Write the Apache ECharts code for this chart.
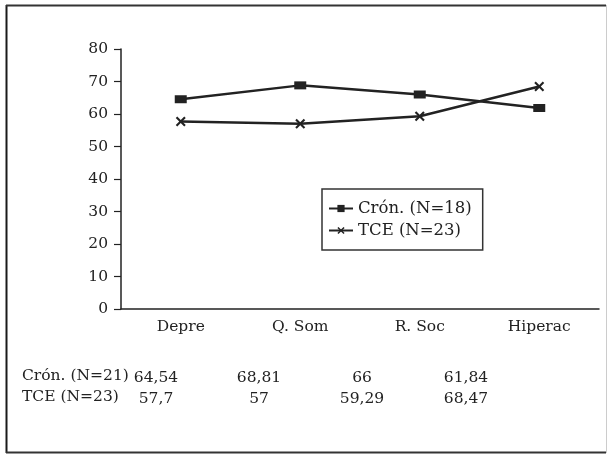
<!DOCTYPE html>
<html>
<head>
<meta charset="utf-8">
<script src="https://cdn.jsdelivr.net/npm/echarts@6/dist/echarts.min.js"></script>
<style>
  html, body { margin: 0; padding: 0; background: #fff; }
  #chart { width: 608px; height: 458px; }
</style>
</head>
<body>
<div id="chart"></div>
<script>
// Scale means per subscale for the two clinical groups
const categories = ['Depre', 'Q. Som', 'R. Soc', 'Hiperac'];
const cronValues = [64.54, 68.81, 66, 61.84];
const tceValues = [57.7, 57, 59.29, 68.47];
const legendNames = ['Crón. (N=18)', 'TCE (N=23)'];
const tableRowNames = ['Crón. (N=21)', 'TCE (N=23)'];
const yTicks = { min: 0, max: 80, step: 10 };

const FONT = 'DejaVu Serif';
const INK = '#222';

// X marker drawn as a filled cross
const crossSymbol = 'path://M0,1.5L1.5,0L5,3.5L8.5,0L10,1.5L6.5,5L10,8.5L8.5,10L5,6.5L1.5,10L0,8.5L3.5,5Z';

const fmt = v => String(v).replace('.', ',');

// Value table under the plot
const colX = [156, 259, 362, 466];
const rowY = [378, 399];
const tableText = [];
[cronValues, tceValues].forEach((vals, r) => {
  tableText.push({
    type: 'text', left: 22, top: rowY[r] - 10,
    style: { text: tableRowNames[r], font: '15.5px "' + FONT + '"', fill: INK }
  });
  vals.forEach((v, c) => {
    tableText.push({
      type: 'text', x: colX[c], y: rowY[r],
      style: { text: fmt(v), font: '15.5px "' + FONT + '"', fill: INK,
               textAlign: 'center', textVerticalAlign: 'middle' }
    });
  });
});

const chart = echarts.init(document.getElementById('chart'), null, { renderer: 'canvas' });
chart.setOption({
  animation: false,
  backgroundColor: '#fff',
  textStyle: { fontFamily: FONT, color: INK },
  grid: { left: 121, right: 9, top: 49, bottom: 149 },
  xAxis: {
    type: 'category',
    data: categories,
    boundaryGap: true,
    axisLine: { lineStyle: { color: INK, width: 1.5 } },
    axisTick: { alignWithLabel: true, length: 5, lineStyle: { color: INK, width: 1.2 } },
    axisLabel: { margin: 10, fontSize: 15.5, color: INK, fontFamily: FONT }
  },
  yAxis: {
    type: 'value',
    min: yTicks.min, max: yTicks.max, interval: yTicks.step,
    axisLine: { show: true, lineStyle: { color: INK, width: 1.5 } },
    axisTick: { show: true, length: 7, lineStyle: { color: INK, width: 1.2 } },
    axisLabel: { margin: 13, fontSize: 15.5, color: INK, fontFamily: FONT },
    splitLine: { show: false }
  },
  legend: {
    orient: 'vertical',
    left: 322, top: 189,
    padding: [11, 11, 11, 6],
    itemGap: 5,
    itemWidth: 24, itemHeight: 9,
    borderColor: '#333', borderWidth: 1.5,
    textStyle: { fontSize: 16.5, color: INK, fontFamily: FONT },
    data: legendNames
  },
  series: [
    {
      name: legendNames[0], type: 'line', data: cronValues,
      symbol: 'rect', symbolSize: [12, 8],
      lineStyle: { color: INK, width: 2.5 },
      itemStyle: { color: INK }
    },
    {
      name: legendNames[1], type: 'line', data: tceValues,
      symbol: crossSymbol, symbolSize: 10,
      lineStyle: { color: INK, width: 2.5 },
      itemStyle: { color: INK }
    }
  ],
  graphic: [
    // page frame
    { type: 'line', shape: { x1: 6.5, y1: 5, x2: 6.5, y2: 453 }, style: { stroke: '#1a1a1a', lineWidth: 2 } },
    { type: 'line', shape: { x1: 6, y1: 5.5, x2: 606, y2: 5.5 }, style: { stroke: '#333', lineWidth: 2 } },
    { type: 'line', shape: { x1: 6, y1: 452.5, x2: 606, y2: 452.5 }, style: { stroke: '#333', lineWidth: 2 } },
    { type: 'line', shape: { x1: 606.5, y1: 5, x2: 606.5, y2: 453 }, style: { stroke: '#ccc', lineWidth: 1 } },
    ...tableText
  ]
});
</script>
</body>
</html>
